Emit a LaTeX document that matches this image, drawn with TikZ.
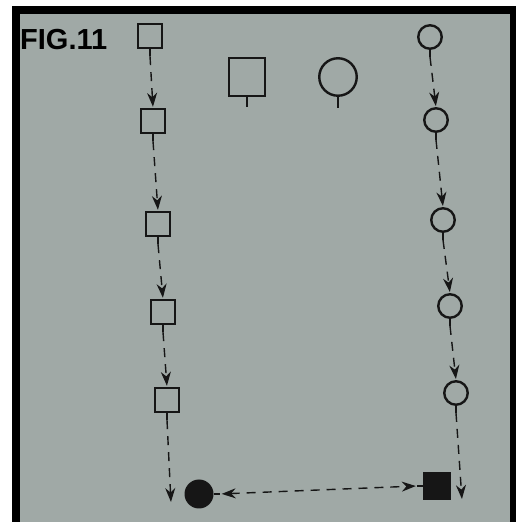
\documentclass[tikz,border=0pt]{standalone}
\usepackage{fontspec}
\setmainfont{Liberation Sans}
\usetikzlibrary{arrows.meta,positioning}
\definecolor{paper}{RGB}{160,169,166}
\definecolor{ink}{RGB}{22,22,22}

\begin{document}
\begin{tikzpicture}[
    x=1pt, y=1pt,
    hsquare/.style={draw=ink, line width=2.4pt, minimum size=24pt, inner sep=0pt},
    hcircle/.style={draw=ink, circle, line width=2.4pt, minimum size=23.5pt, inner sep=0pt},
    fsquare/.style={fill=ink, minimum size=28pt, inner sep=0pt},
    fcircle/.style={fill=ink, circle, minimum size=29pt, inner sep=0pt},
    stem/.style={draw=ink, line width=2.4pt},
    flow/.style={ink, line width=1.4pt, dash pattern=on 9pt off 7pt, -{Stealth[length=14pt,width=10pt,inset=4.5pt]}, shorten >=1pt}
]
% paper and frame
\fill[white] (0,0) rectangle (516,522);
\fill[black] (12,0) rectangle (516,516);
\fill[paper] (20,0) rectangle (510,508);
\useasboundingbox (0,0) rectangle (516,522);

\node[anchor=base west, inner sep=0pt, font=\bfseries\fontsize{29}{29}\selectfont] (title) at (20,472) {FIG.11};

% legend shapes
\node[hsquare, minimum width=36pt, minimum height=38pt] (sqBig) at (247,445) {};
\node[hcircle, minimum size=37.5pt] (ciBig) at (338,445) {};
\draw[stem] (sqBig.south) -- ++(0,-10);
\draw[stem] (ciBig.south) -- ++(0,-11);

% left column
\node[hsquare] (sqA) at (150,486) {};
\node[hsquare] (sqB) at (153,401) {};
\node[hsquare] (sqC) at (158,298) {};
\node[hsquare] (sqD) at (163,210) {};
\node[hsquare] (sqE) at (167,122) {};
\coordinate (endL) at (171,19);

% right column
\node[hcircle] (ciA) at (430,485) {};
\node[hcircle] (ciB) at (436,402) {};
\node[hcircle] (ciC) at (443,302) {};
\node[hcircle] (ciD) at (450,216) {};
\node[hcircle] (ciE) at (456,129) {};
\coordinate (endR) at (462,22);

% bottom pair
\node[fcircle] (dotC) at (199,28) {};
\node[fsquare] (boxS) at (437,36) {};

% stems
\foreach \n in {sqA,sqB,sqC,sqD,sqE,ciA,ciB,ciC,ciD,ciE} {
    \coordinate (\n-end) at ([yshift=-7pt]\n.south);
    \draw[stem] (\n.south) -- (\n-end);
}
\coordinate (dotC-end) at ([xshift=6pt]dotC.east);
\coordinate (boxS-end) at ([xshift=-6pt]boxS.west);
\draw[stem] (dotC.east) -- (dotC-end);
\draw[stem] (boxS.west) -- (boxS-end);

% connectors
\draw[flow] (sqA-end) -- (sqB.north);
\draw[flow] (sqB-end) -- (sqC.north);
\draw[flow] (sqC-end) -- (sqD.north);
\draw[flow] (sqD-end) -- (sqE.north);
\draw[flow] (sqE-end) -- (endL);
\draw[flow] (ciA-end) -- (ciB.north);
\draw[flow] (ciB-end) -- (ciC.north);
\draw[flow] (ciC-end) -- (ciD.north);
\draw[flow] (ciD-end) -- (ciE.north);
\draw[flow] (ciE-end) -- (endR);
\draw[flow, {Stealth[length=14pt,width=10pt,inset=4.5pt]}-{Stealth[length=14pt,width=10pt,inset=4.5pt]}, shorten <=2pt] (dotC-end) -- (boxS-end);
\end{tikzpicture}
\end{document}
